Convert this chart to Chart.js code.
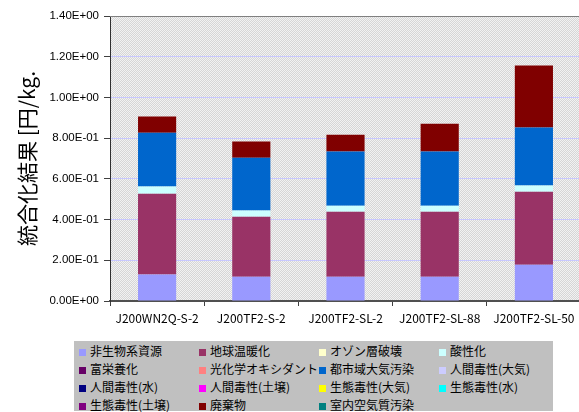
<!DOCTYPE html>
<html>
<head>
<meta charset="utf-8">
<script src="https://cdn.jsdelivr.net/npm/chart.js@4"></script>
<style>
  html, body { margin: 0; padding: 0; background: #fff; overflow: hidden; }
  #wrap { position: relative; width: 582px; height: 412px; }
  #box { position: absolute; left: 0; top: 0; width: 582px; height: 335px; }
  #legend {
    position: absolute; left: 74px; top: 341px; width: 479px; height: 70px;
    background: #c0c0c0; font-family: "Noto Sans CJK JP", sans-serif; font-size: 12px; color: #000;
  }
  .item { position: absolute; height: 18px; line-height: 18px; white-space: nowrap; }
  .item i { display: inline-block; width: 7px; height: 7px; margin-right: 4px; vertical-align: 0px; }
</style>
</head>
<body>
<div id="wrap">
  <div id="box"><canvas id="chart"></canvas></div>
  <div id="legend"></div>
</div>
<script>
const samples = ['J200WN2Q-S-2', 'J200TF2-S-2', 'J200TF2-SL-2', 'J200TF2-SL-88', 'J200TF2-SL-50'];

const impactNames = ['非生物系資源', '地球温暖化', 'オゾン層破壊', '酸性化', '富栄養化', '光化学オキシダント',
  '都市域大気汚染', '人間毒性(大気)', '人間毒性(水)', '人間毒性(土壌)', '生態毒性(大気)', '生態毒性(水)',
  '生態毒性(土壌)', '廃棄物', '室内空気質汚染'];
const impactColors = ['#9999ff', '#993366', '#ffffcc', '#ccffff', '#660066', '#ff8080',
  '#0066cc', '#ccccff', '#000080', '#ff00ff', '#ffff00', '#00ffff',
  '#800080', '#800000', '#008080'];

// values per impact, one per sample (zero where nothing shows)
const abiotic   = [0.130, 0.119, 0.119, 0.119, 0.178];
const warming   = [0.397, 0.295, 0.320, 0.320, 0.359];
const ozone     = [0, 0, 0, 0, 0];
const acid      = [0.035, 0.030, 0.029, 0.029, 0.030];
const eutro     = [0, 0, 0, 0, 0];
const photochem = [0, 0, 0, 0, 0];
const urbanAir  = [0.265, 0.260, 0.266, 0.266, 0.285];
const humAir    = [0, 0, 0, 0, 0];
const humWater  = [0, 0, 0, 0, 0];
const humSoil   = [0, 0, 0, 0, 0];
const ecoAir    = [0, 0, 0, 0, 0];
const ecoWater  = [0, 0, 0, 0, 0];
const ecoSoil   = [0, 0, 0, 0, 0];
const waste     = [0.079, 0.079, 0.083, 0.137, 0.305];
const indoor    = [0, 0, 0, 0, 0];

const series = [abiotic, warming, ozone, acid, eutro, photochem, urbanAir, humAir,
  humWater, humSoil, ecoAir, ecoWater, ecoSoil, waste, indoor];

const yMax = 1.4;
const yStep = 0.2;
const yTitle = '統合化結果 [円/kg.';

function sci(v) {
  const s = Math.abs(v) < 1e-12 ? (0).toExponential(2) : v.toExponential(2);
  const parts = s.split('e');
  const e = parseInt(parts[1], 10);
  return parts[0] + 'E' + (e < 0 ? '-' : '+') + String(Math.abs(e)).padStart(2, '0');
}

// dotted grey plot background
const pat = document.createElement('canvas');
pat.width = 2; pat.height = 2;
const pctx = pat.getContext('2d');
pctx.fillStyle = '#d6d6d6'; pctx.fillRect(0, 0, 2, 2);
pctx.fillStyle = '#f2f2f2'; pctx.fillRect(0, 0, 1, 1); pctx.fillRect(1, 1, 1, 1);

const plotBg = {
  id: 'plotBg',
  beforeDraw(chart) {
    const a = chart.chartArea, c = chart.ctx;
    c.save();
    c.fillStyle = c.createPattern(pat, 'repeat');
    c.fillRect(a.left, a.top, a.right - a.left, a.bottom - a.top);
    c.restore();
  },
  afterDraw(chart) {
    const a = chart.chartArea, c = chart.ctx;
    c.save();
    c.strokeStyle = '#808080';
    c.lineWidth = 1;
    c.beginPath();
    c.moveTo(a.left, a.top + 0.5);
    c.lineTo(a.right, a.top + 0.5);
    c.stroke();
    c.restore();
  }
};

const ctx = document.getElementById('chart').getContext('2d');
new Chart(ctx, {
  type: 'bar',
  data: {
    labels: samples,
    datasets: series.map((vals, i) => ({
      label: impactNames[i],
      data: vals,
      backgroundColor: impactColors[i],
      borderWidth: 0,
      categoryPercentage: 1,
      barPercentage: 0.405
    }))
  },
  options: {
    responsive: true,
    maintainAspectRatio: false,
    animation: false,
    layout: { padding: { left: 0, top: 16, right: 1, bottom: 0 } },
    plugins: { legend: { display: false }, tooltip: { enabled: false } },
    scales: {
      x: {
        stacked: true,
        afterFit(scale) { scale.height = 34; },
        grid: { drawOnChartArea: false, drawTicks: true, tickLength: 5, tickColor: '#404040' },
        border: { color: '#505050', width: 2 },
        ticks: { color: '#000', padding: 5, maxRotation: 0, autoSkip: false,
          font: { family: '"Noto Sans CJK JP", sans-serif', size: 12 } }
      },
      y: {
        stacked: true,
        min: 0,
        max: yMax,
        afterFit(scale) { scale.width = 110; },
        grid: { color: '#c8c8ff', lineWidth: 1, drawTicks: true, tickLength: 6, tickColor: '#404040' },
        border: { color: '#303030', width: 1 },
        ticks: { stepSize: yStep, color: '#000', padding: 5, callback: v => sci(v),
          font: { family: '"Liberation Sans", Arial, sans-serif', size: 11.5 } },
        title: { display: true, text: yTitle, color: '#000', padding: { top: 14, bottom: 0 },
          font: { family: '"Noto Sans CJK JP", sans-serif', size: 21 } }
      }
    }
  },
  plugins: [plotBg]
});

// legend, 4 columns, built from the same names/colours
const leg = document.getElementById('legend');
impactNames.forEach((name, i) => {
  const d = document.createElement('div');
  d.className = 'item';
  d.style.left = (5 + (i % 4) * 120) + 'px';
  d.style.top = (1 + Math.floor(i / 4) * 18) + 'px';
  const sw = document.createElement('i');
  sw.style.background = impactColors[i];
  d.appendChild(sw);
  d.appendChild(document.createTextNode(name));
  leg.appendChild(d);
});
</script>
</body>
</html>
